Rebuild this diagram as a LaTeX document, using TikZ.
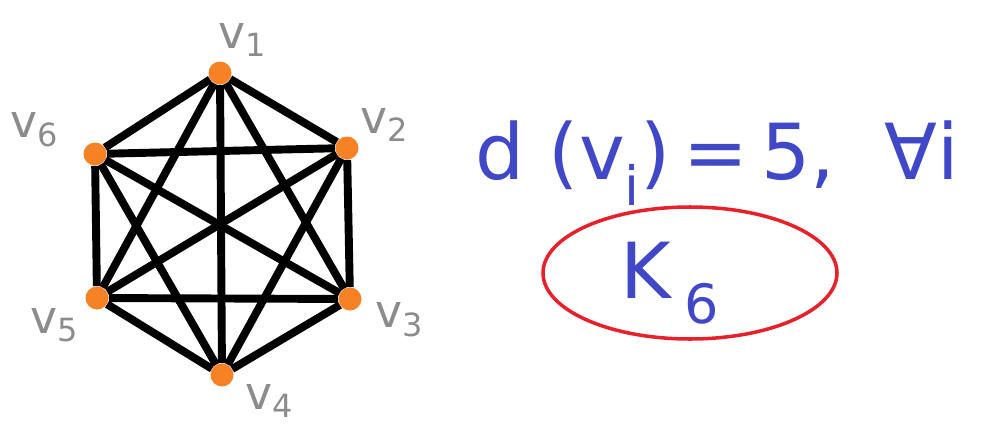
\documentclass[tikz,border=0pt]{standalone}
\usepackage{fontspec}
\setmainfont{DejaVu Sans}
\usetikzlibrary{positioning}

\definecolor{dotorange}{RGB}{247,130,38}
\definecolor{inkblue}{RGB}{64,72,200}
\definecolor{inkred}{RGB}{232,32,42}
\definecolor{inkgray}{RGB}{140,140,140}

\tikzset{
  vertex/.style={circle, fill=dotorange, inner sep=0pt, minimum size=0.46cm},
  edgeline/.style={line width=4.5pt, black},
  vlabel/.style={text=inkgray, font=\fontsize{26}{26}\selectfont, inner sep=0pt},
}

\begin{document}
\begin{tikzpicture}
  \useasboundingbox (0,0) rectangle (19.88,8.62);

  % --- vertices of K_6 ---
  \node[vertex] (v1) at (4.40,7.16) {};
  \node[vertex] (v2) at (6.94,5.66) {};
  \node[vertex] (v3) at (7.00,2.64) {};
  \node[vertex] (v4) at (4.44,1.12) {};
  \node[vertex] (v5) at (1.94,2.66) {};
  \node[vertex] (v6) at (1.90,5.54) {};

  % --- every pair joined ---
  \foreach \a/\b in {1/2,1/3,1/4,1/5,1/6,2/3,2/4,2/5,2/6,3/4,3/5,3/6,4/5,4/6,5/6}
    \draw[edgeline] (v\a) -- (v\b);

  % --- vertex labels ---
  \node[vlabel] (l1) at (4.86,7.82) {v\textsubscript{1}};
  \node[vlabel] (l2) at (7.70,6.12) {v\textsubscript{2}};
  \node[vlabel] (l3) at (8.00,2.22) {v\textsubscript{3}};
  \node[vlabel] (l4) at (5.40,0.60) {v\textsubscript{4}};
  \node[vlabel] (l5) at (1.10,2.12) {v\textsubscript{5}};
  \node[vlabel] (l6) at (0.70,6.02) {v\textsubscript{6}};

  % --- degree and name ---
  \node[anchor=west, text=inkblue, font=\fontsize{44}{44}\selectfont, inner sep=0pt]
    (deg) at (9.5,5.36) {d (v\textsubscript{i})\,=\,5,\ \ ∀i};
  \draw[inkred, line width=2pt] (13.8,3.16) ellipse (2.94cm and 1.32cm);
  \node[text=inkblue, font=\fontsize{44}{44}\selectfont] (kname) at (13.4,2.95) {K\,\textsubscript{6}};
\end{tikzpicture}
\end{document}
